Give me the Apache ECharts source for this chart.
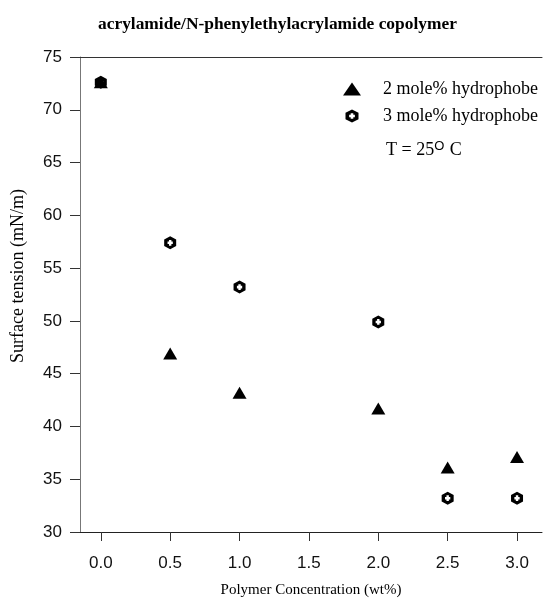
<!DOCTYPE html>
<html lang="en">
<head>
    <meta charset="utf-8">
    <script src="https://cdn.jsdelivr.net/npm/echarts@6/dist/echarts.min.js"></script>
    <style>
        html, body { margin: 0; padding: 0; background: #fff; }
        #chart { width: 543px; height: 601px; }
    </style>
</head>
<body>
<div id="chart"></div>
<script>
// polymer concentration (wt%)
const concentration = [0.0, 0.5, 1.0, 2.0, 2.5, 3.0]
// surface tension (mN/m)
const tension2 = [72.6, 46.9, 43.2, 41.7, 36.1, 37.1]
const tension3 = [72.6, 57.4, 53.2, 49.9, 33.2, 33.2]
const xTicks = ['0.0', '0.5', '1.0', '1.5', '2.0', '2.5', '3.0']
const yTicks = [30, 35, 40, 45, 50, 55, 60, 65, 70, 75]

const seriesNames = ['2 mole% hydrophobe', '3 mole% hydrophobe']

// hexagon with a plus-shaped hole (wound the other way)
const hexPlus = 'path://M5,0L10,2.5L10,7.5L5,10L0,7.5L0,2.5Z' +
    'M4,2.8L4,4L2.8,4L2.8,6L4,6L4,7.2L6,7.2L6,6L7.2,6L7.2,4L6,4L6,2.8Z'

const serif = '"Liberation Serif", "DejaVu Serif", serif'
const sans = '"Liberation Sans", Arial, sans-serif'
const xTickValues = xTicks.map(t => parseFloat(t))

let chart = echarts.init(document.querySelector('#chart'))
chart.setOption({
    animation: false,
    title: {
        text: 'acrylamide/N-phenylethylacrylamide copolymer',
        left: 93, top: 11,
        textStyle: { fontFamily: serif, fontSize: 17.4, fontWeight: 'bold', color: '#000' }
    },
    grid: { left: 80, top: 57, right: 1, bottom: 69, outerBoundsMode: 'none' },
    legend: {
        orient: 'vertical',
        left: 338, top: 75,
        itemWidth: 18, itemHeight: 13, itemGap: 9,
        textStyle: { fontFamily: serif, fontSize: 18, color: '#000', padding: [0, 0, 0, 17] },
        data: [
            { name: seriesNames[0], icon: 'triangle' },
            { name: seriesNames[1], icon: hexPlus }
        ]
    },
    graphic: [{
        type: 'text',
        left: 386, top: 140,
        style: {
            text: '{n|T = 25}{s|O}{n| C}',
            rich: {
                n: { fontFamily: serif, fontSize: 18, fill: '#000', verticalAlign: 'bottom' },
                s: { fontFamily: sans, fontSize: 13, fill: '#000', verticalAlign: 'top', padding: [0, 1, 6, 0] }
            }
        }
    }, {
        type: 'text',
        x: 18, y: 276,
        rotation: Math.PI / 2,
        style: {
            text: 'Surface tension (mN/m)',
            fontFamily: serif, fontSize: 18, fill: '#000',
            align: 'center', verticalAlign: 'middle'
        }
    }],
    xAxis: [{
        type: 'value',
        min: -0.15, max: 3.18,
        interval: 0.5,
        position: 'bottom',
        name: 'Polymer Concentration (wt%)',
        nameLocation: 'middle', nameGap: 51,
        nameTextStyle: { fontFamily: serif, fontSize: 15, color: '#000' },
        axisLine: { onZero: false, lineStyle: { color: '#222', width: 1 } },
        axisTick: { show: true, length: 9, lineStyle: { color: '#333' }, customValues: xTickValues },
        axisLabel: {
            fontFamily: sans, fontSize: 17, color: '#111', margin: 23,
            customValues: xTickValues,
            formatter: v => xTicks[Math.round(v * 2)]
        },
        splitLine: { show: false }
    }, {
        type: 'value',
        min: -0.15, max: 3.18,
        position: 'top',
        axisLine: { show: true, onZero: false, lineStyle: { color: '#333', width: 1 } },
        axisTick: { show: false },
        axisLabel: { show: false },
        splitLine: { show: false }
    }],
    yAxis: {
        type: 'value',
        min: yTicks[0], max: yTicks[yTicks.length - 1],
        interval: 5,
        axisLine: { show: true, onZero: false, lineStyle: { color: '#777', width: 1 } },
        axisTick: { show: true, length: 10, lineStyle: { color: '#333' } },
        axisLabel: { fontFamily: sans, fontSize: 17, color: '#111', margin: 18 },
        splitLine: { show: false }
    },
    series: [{
        name: seriesNames[0],
        type: 'scatter',
        symbol: 'triangle',
        symbolSize: [14, 12],
        itemStyle: { color: '#000', opacity: 1 },
        data: concentration.map((c, i) => [c, tension2[i]])
    }, {
        name: seriesNames[1],
        type: 'scatter',
        symbol: hexPlus,
        symbolSize: [12, 13],
        itemStyle: { color: '#000', opacity: 1 },
        data: concentration.map((c, i) => [c, tension3[i]])
    }]
})
</script>
</body>
</html>
